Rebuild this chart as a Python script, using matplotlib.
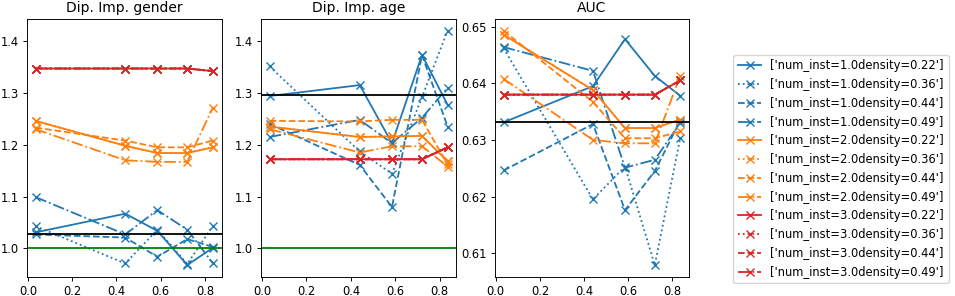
import matplotlib.pyplot as plt

# x positions (same for every panel)
x_vals = [0.035, 0.44, 0.585, 0.72, 0.835]

num_insts = ["1.0", "2.0", "3.0"]
densities = ["0.22", "0.36", "0.44", "0.49"]
colors = ["tab:blue", "tab:orange", "tab:red"]
styles = ["-", ":", "--", "-."]

# Dip. Imp. gender, one list per density
gender_n1 = [
    [1.031, 1.067, 1.034, 0.968, 1.001],
    [1.043, 0.971, 1.036, 0.970, 1.043],
    [1.027, 1.021, 0.984, 1.018, 1.003],
    [1.099, 1.027, 1.074, 1.036, 0.972],
]
gender_n2 = [
    [1.246, 1.198, 1.184, 1.184, 1.195],
    [1.246, 1.198, 1.184, 1.184, 1.195],
    [1.233, 1.208, 1.195, 1.195, 1.208],
    [1.230, 1.170, 1.167, 1.167, 1.271],
]
gender_n3 = [[1.347, 1.347, 1.347, 1.347, 1.342]] * 4
gender_ref = 1.028

# Dip. Imp. age
age_n1 = [
    [1.294, 1.315, 1.203, 1.373, 1.277],
    [1.351, 1.187, 1.144, 1.292, 1.420],
    [1.240, 1.161, 1.080, 1.373, 1.235],
    [1.215, 1.248, 1.203, 1.252, 1.310],
]
age_n2 = [
    [1.235, 1.215, 1.216, 1.217, 1.168],
    [1.235, 1.215, 1.216, 1.217, 1.168],
    [1.246, 1.245, 1.248, 1.248, 1.162],
    [1.230, 1.185, 1.197, 1.197, 1.158],
]
age_n3 = [[1.172, 1.172, 1.172, 1.172, 1.195]] * 4
age_ref = 1.295

# AUC
auc_n1 = [
    [0.6331, 0.6395, 0.6478, 0.6413, 0.6378],
    [0.6462, 0.6195, 0.6253, 0.6079, 0.6303],
    [0.6246, 0.6328, 0.6176, 0.6245, 0.6334],
    [0.6464, 0.6422, 0.6251, 0.6265, 0.6330],
]
auc_n2 = [
    [0.6486, 0.6388, 0.6321, 0.6321, 0.6336],
    [0.6486, 0.6388, 0.6321, 0.6321, 0.6336],
    [0.6493, 0.6367, 0.6303, 0.6303, 0.6315],
    [0.6408, 0.6300, 0.6294, 0.6294, 0.6413],
]
auc_n3 = [[0.6380, 0.6380, 0.6380, 0.6380, 0.6405]] * 4
auc_ref = 0.6331

plt.rcParams.update({
    "font.size": 8.3,
    "axes.linewidth": 0.67,
    "xtick.major.size": 2.9,
    "ytick.major.size": 2.9,
    "xtick.major.width": 0.67,
    "ytick.major.width": 0.67,
    "xtick.major.pad": 2.9,
    "ytick.major.pad": 2.9,
    "lines.linewidth": 1.3,
    "lines.markersize": 5.5,
})

fig = plt.figure(figsize=(9.55, 2.96), dpi=100)
ax1 = fig.add_axes([0.028, 0.065, 0.204, 0.871])
ax2 = fig.add_axes([0.273, 0.065, 0.205, 0.871], sharey=ax1)
ax3 = fig.add_axes([0.518, 0.065, 0.2035, 0.871])


def draw(ax, groups, ref, title, green=True):
    for n, col, group in zip(num_insts, colors, groups):
        for d, ls, vals in zip(densities, styles, group):
            ax.plot(x_vals, vals, color=col, linestyle=ls, marker="x",
                    label=str(["num_inst=" + n + "density=" + d]))
    ax.axhline(ref, color="k", lw=1.3)
    if green:
        ax.axhline(1.0, color="green", lw=1.3)
    ax.set_title(title, fontsize=10, pad=5)
    ax.set_xticks([0.0, 0.2, 0.4, 0.6, 0.8])


draw(ax1, [gender_n1, gender_n2, gender_n3], gender_ref, "Dip. Imp. gender")
draw(ax2, [age_n1, age_n2, age_n3], age_ref, "Dip. Imp. age")
draw(ax3, [auc_n1, auc_n2, auc_n3], auc_ref, "AUC", green=False)
ax1.set_yticks([1.0, 1.1, 1.2, 1.3, 1.4])

handles, labels = ax3.get_legend_handles_labels()
fig.legend(handles, labels, loc="center left", bbox_to_anchor=(0.762, 0.429),
           fontsize=8.3)

fig.savefig("out.png", dpi=100)
